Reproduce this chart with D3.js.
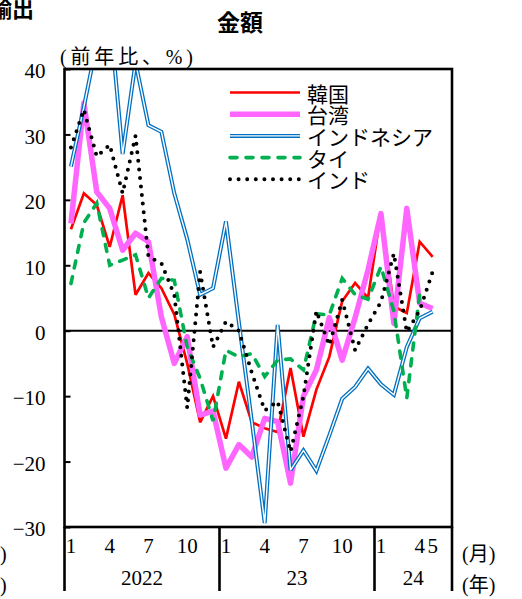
<!DOCTYPE html>
<html><head><meta charset="utf-8">
<script src="https://cdn.jsdelivr.net/npm/d3@7"></script>
<style>
html,body{margin:0;padding:0;background:#fff;}
svg{display:block;}
</style></head><body>
<svg id="c" width="522" height="599"></svg>
<script>
// ---- data ----
const monthLabels = ["1","","","4","","","7","","","10","","",
                     "1","","","4","","","7","","","10","","",
                     "1","","","4","5",""];
const yearLabels = ["2022","23","24"];
const yearMonths = [12,12,6];
const yTicks = [-30,-20,-10,0,10,20,30,40];
const seriesNames = ["韓国","台湾","インドネシア","タイ","インド"];
const korea     = [15.5,21,19.2,12.8,20.7,5.5,8.8,6.5,2.5,-5,-14,-10,-16.5,-7.8,-14,-14.9,-15.5,-5.7,-16.2,-9,-4,4.5,7.3,5,18.2,3.7,2.7,13.6,11.3];
const taiwan    = [16.4,34.8,21.2,18.7,12.3,14.9,13.6,2.1,-5,-0.9,-12.9,-12.3,-21,-17.4,-19.3,-13.4,-13.9,-23.3,-10,-6,2,-4.5,2,9.3,17.9,1.1,18.7,4.2,3.4];
const indonesia = [25.1,34.2,44,48.7,27,41,31.4,30.4,21,14,5.5,6.5,16.7,1.3,-13.8,-29.4,0.9,-21.3,-18.3,-21.4,-16,-10.4,-8.6,-5.8,-8.2,-9.8,-2.5,1.9,2.9];
const thai      = [7.2,16.5,19.5,10,10.8,11.6,5,8,7.7,-2.5,-7.3,-13.8,-3,-4,-3.5,-7,-4.5,-4.3,-6,2.6,2.4,8,5.5,4.8,9.8,3,-10.3,5.7];
const india     = [28,33.8,26.6,28.4,21,29.8,11.3,10.3,5.5,-11.8,9,-2.5,1.4,0,-6.4,-12.2,-10.8,-18.5,-10,3,-2.2,4.7,-3,1,4.4,11.8,-0.2,3.1,9];

// ---- layout ----
const svg = d3.select("#c");
const L = 64.5, R = 452, T = 69, B = 527;
const SERIF = "'Liberation Serif','Noto Sans CJK JP',serif";
const JP = "'Noto Sans CJK JP','Liberation Serif',sans-serif";

const x = d3.scaleBand().domain(d3.range(monthLabels.length)).range([L, R]).padding(0);
const xc = i => x(i) + x.bandwidth()/2;
const y = d3.scaleLinear().domain([-30, 40]).range([B, T]);

svg.append("defs").append("clipPath").attr("id","clip")
  .append("rect").attr("x",L).attr("y",T).attr("width",R-L).attr("height",B-T);

// zero line
svg.append("line").attr("x1",L).attr("x2",R).attr("y1",y(0)).attr("y2",y(0))
  .attr("stroke","#000").attr("stroke-width",2);

// y axis
const yAxis = d3.axisLeft(y).tickValues(yTicks).tickSize(-6)
  .tickFormat(d => d < 0 ? "\u2212" + Math.abs(d) : String(d));
const gy = svg.append("g").attr("transform",`translate(${L},0)`).call(yAxis);
gy.select(".domain").remove();
gy.selectAll(".tick line").attr("stroke","#000").attr("stroke-width",2);
gy.selectAll(".tick text").attr("x",-19).attr("dy","0.42em")
  .style("font-family",SERIF).style("font-size","21px").attr("fill","#000");

// series
const line = d3.line().x((d,i)=>xc(i)).y(d=>y(d));
const g = svg.append("g").attr("clip-path","url(#clip)");
function drawSeries(data, styles){
  styles.forEach(s => {
    const p = g.append("path").datum(data).attr("d",line).attr("fill","none")
      .attr("stroke-linejoin","miter").attr("stroke-miterlimit",3);
    Object.entries(s).forEach(([k,v]) => p.attr(k,v));
  });
}
const styleSets = [
  [{"stroke":"#FF0000","stroke-width":2.7}],
  [{"stroke":"#FF66FF","stroke-width":5.5,"stroke-linejoin":"round"}],
  [{"stroke":"#0070C0","stroke-width":4},{"stroke":"#fff","stroke-width":1.4}],
  [{"stroke":"#00B050","stroke-width":3.6,"stroke-dasharray":"7,9","stroke-linecap":"round"}],
  [{"stroke":"#000","stroke-width":4,"stroke-dasharray":"0,8.6","stroke-linecap":"round","stroke-linejoin":"round"}]
];
[korea, taiwan, indonesia, thai, india].forEach((d,k) => drawSeries(d, styleSets[k]));

// frame
svg.append("rect").attr("x",L).attr("y",T).attr("width",R-L).attr("height",B-T)
  .attr("fill","none").attr("stroke","#000").attr("stroke-width",2.6);

// x axis: month labels
const gx = svg.append("g");
gx.selectAll("text.m").data(monthLabels.map((t,i)=>({t,i})).filter(d=>d.t!==""))
  .enter().append("text").attr("class","m")
  .attr("x",d=>xc(d.i)).attr("y",553).attr("text-anchor","middle")
  .style("font-family",SERIF).style("font-size","21px").text(d=>d.t);

// year dividers & labels
let cum = 0;
const bounds = [0];
yearMonths.forEach(n => { cum += n; bounds.push(cum); });
bounds.forEach(b => {
  const xx = b < monthLabels.length ? x(b) : R;
  gx.append("line").attr("x1",xx).attr("x2",xx).attr("y1",B).attr("y2",591)
    .attr("stroke","#000").attr("stroke-width",2.6);
});
yearLabels.forEach((t,k) => {
  const x0 = x(bounds[k]);
  const x1 = bounds[k+1] < monthLabels.length ? x(bounds[k+1]) : R;
  gx.append("text").attr("x",(x0+x1)/2).attr("y",585).attr("text-anchor","middle")
    .style("font-family",SERIF).style("font-size","21px").text(t);
});

// unit labels
function txt(t, xx, yy, opts={}){
  const e = svg.append("text").attr("x",xx).attr("y",yy)
    .style("font-family",opts.font||JP).style("font-size",(opts.size||20)+"px")
    .attr("text-anchor",opts.anchor||"start").text(t);
  if (opts.bold) e.style("font-weight","bold");
  return e;
}
txt("(月)", 462, 561, {font:SERIF});
txt("(年)", 462, 592, {font:SERIF});
txt(")", 0, 561, {font:SERIF});
txt(")", 0, 592, {font:SERIF});
txt("(前年比、%)", 60, 64, {font:SERIF}).attr("textLength",133).attr("lengthAdjust","spacing");
txt("金額", 240, 31, {size:23, anchor:"middle", bold:true});
txt("輸出", -10, 17, {size:22, bold:true});

// legend
const legY0 = 92.5, legStep = 21.7;
seriesNames.forEach((n,k) => {
  const yy = legY0 + k*legStep;
  styleSets[k].forEach(s => {
    const l = svg.append("line").attr("x1",230).attr("x2",300).attr("y1",yy).attr("y2",yy);
    Object.entries(s).forEach(([kk,v]) => l.attr(kk,v));
  });
  svg.append("text").attr("x",307).attr("y",yy).attr("dominant-baseline","central")
    .style("font-family",JP).style("font-size","21px").text(n);
});
</script>
</body></html>
